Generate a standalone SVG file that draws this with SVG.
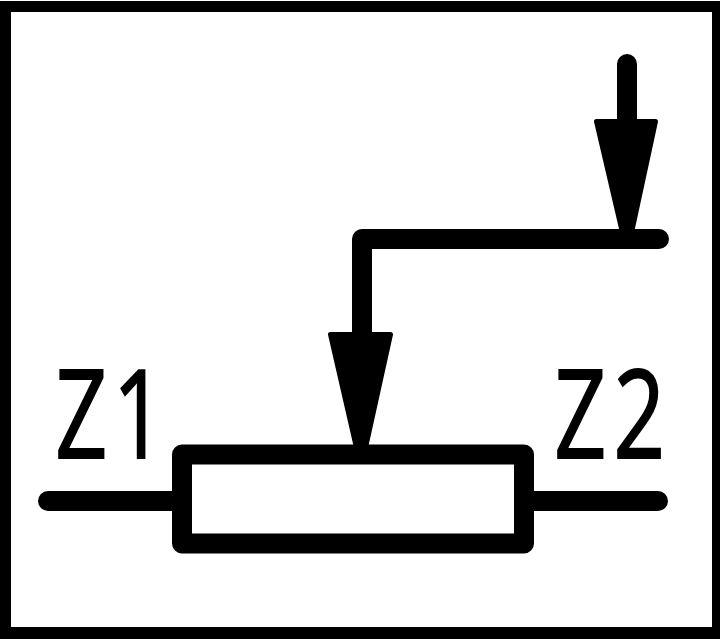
<svg xmlns="http://www.w3.org/2000/svg" width="720" height="639" viewBox="0 0 720 639">
<style>
.l{fill:none;stroke:#000;stroke-width:20;stroke-linecap:round;stroke-linejoin:round}
.h{fill:#000;stroke:#000;stroke-width:5;stroke-linejoin:round}
.t{font-family:"Open Sans","Noto Sans",sans-serif;font-size:122px;fill:#000;stroke:#000;stroke-width:2}
</style>
<rect width="720" height="639" fill="#fff"/>
<path d="M0 1H720V639H0ZM11 12V627H712V12Z" fill="#000" fill-rule="evenodd"/>
<g id="connectors">
<path class="l" d="M627 64V130"/>
<path class="h" d="M596.500 121.500H655.500L631 235H623Z"/>
<path class="l" d="M659 239H362V345"/>
<path class="h" d="M330.500 334.500H390.500L365 450H357Z"/>
<path class="l" d="M48 501H180"/>
<path class="l" d="M526 501H658"/>
</g>
<g id="resistor"><rect class="l" x="182" y="454.500" width="342" height="89"/></g>
<g id="z1"><text class="t" transform="translate(55.500 457.500) scale(.74 1)">Z<tspan dx="8">1</tspan></text></g>
<g id="z2"><text class="t" transform="translate(554.500 457.500) scale(.74 1)">Z<tspan dx="10">2</tspan></text></g>
</svg>
